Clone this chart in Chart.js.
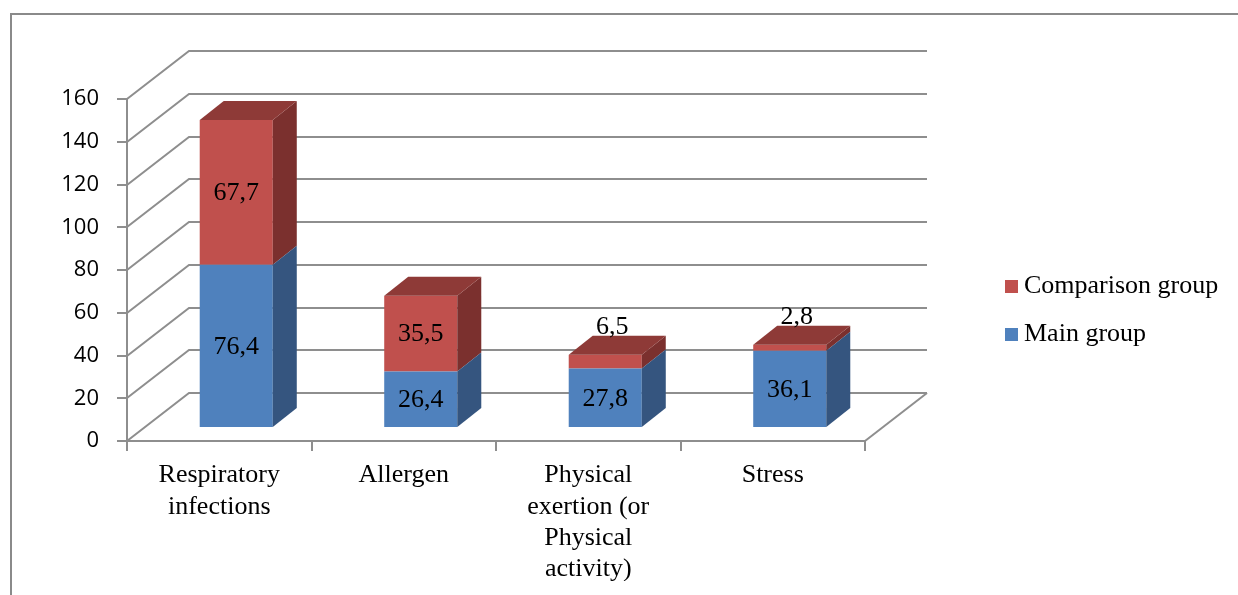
<!DOCTYPE html>
<html>
<head>
<meta charset="utf-8">
<script src="https://cdn.jsdelivr.net/npm/chart.js@4/dist/chart.umd.min.js"></script>
<style>
  html, body { margin: 0; padding: 0; background: #fff; }
  #wrap { width: 1238px; height: 595px; position: relative; }
</style>
</head>
<body>
<div id="wrap"><canvas id="c" width="1238" height="595"></canvas></div>
<script>
// ---- data ----
const categories = [
  ["Respiratory", "infections"],
  ["Allergen"],
  ["Physical", "exertion (or", "Physical", "activity)"],
  ["Stress"]
];
const mainGroup = [76.4, 26.4, 27.8, 36.1];
const comparisonGroup = [67.7, 35.5, 6.5, 2.8];
const seriesLabels = ["Main group", "Comparison group"];
const yMin = 0;
const yMax = 160;
const yStep = 20;

// ---- 3D look ----
const WALL = { dx: 62, dy: 48 };       // depth of side wall / floor
const BAR_SHIFT = { dx: 17, dy: 13 };  // where bar fronts sit inside the depth
const BAR_DEPTH = { dx: 24, dy: 19 };  // thickness of each box
const GRID = '#8e8e8e';
const SHADES = [
  { front: '#4f81bd', side: '#35557f', top: '#40679a' },
  { front: '#c0504d', side: '#7b302e', top: '#8e3a37' }
];
const SERIF = '"Liberation Serif", "Times New Roman", serif';

const fmt = v => v.toFixed(1).replace('.', ',');

const boxes3d = {
  id: 'boxes3d',
  beforeDraw(chart) {
    const { ctx, chartArea: a, scales: { y } } = chart;
    ctx.save();
    ctx.fillStyle = '#fff';
    ctx.fillRect(0, 0, chart.width, chart.height);
    // outer frame
    ctx.strokeStyle = '#8a8a8a';
    ctx.lineWidth = 2;
    ctx.strokeRect(11, 14, chart.width + 10, chart.height + 10);
    // side wall + back wall grid lines
    ctx.strokeStyle = GRID;
    ctx.lineWidth = 2;
    y.ticks.forEach(t => {
      const py = Math.round(y.getPixelForValue(t.value));
      ctx.beginPath();
      ctx.moveTo(a.left, py);
      ctx.lineTo(a.left + WALL.dx, py - WALL.dy);
      ctx.lineTo(a.right + WALL.dx, py - WALL.dy);
      ctx.stroke();
    });
    // right edge of the floor
    ctx.beginPath();
    ctx.moveTo(a.right, a.bottom);
    ctx.lineTo(a.right + WALL.dx, a.bottom - WALL.dy);
    ctx.stroke();
    ctx.restore();
  },
  beforeDatasetsDraw(chart) {
    chart.ctx.save();
    chart.ctx.translate(BAR_SHIFT.dx, -BAR_SHIFT.dy);
  },
  afterDatasetDraw(chart, args) {
    const { ctx } = chart;
    const i = args.index;
    const meta = chart.getDatasetMeta(i);
    const shade = SHADES[i];
    const isTop = i === chart.data.datasets.length - 1;
    meta.data.forEach(bar => {
      const { x, y, base, width } = bar.getProps(['x', 'y', 'base', 'width'], true);
      const x0 = x - width / 2, x1 = x + width / 2;
      // side face
      ctx.fillStyle = shade.side;
      ctx.beginPath();
      ctx.moveTo(x1, base);
      ctx.lineTo(x1, y);
      ctx.lineTo(x1 + BAR_DEPTH.dx, y - BAR_DEPTH.dy);
      ctx.lineTo(x1 + BAR_DEPTH.dx, base - BAR_DEPTH.dy);
      ctx.closePath();
      ctx.fill();
      if (isTop) {
        ctx.fillStyle = shade.top;
        ctx.beginPath();
        ctx.moveTo(x0, y);
        ctx.lineTo(x1, y);
        ctx.lineTo(x1 + BAR_DEPTH.dx, y - BAR_DEPTH.dy);
        ctx.lineTo(x0 + BAR_DEPTH.dx, y - BAR_DEPTH.dy);
        ctx.closePath();
        ctx.fill();
      }
    });
  },
  afterDatasetsDraw(chart) {
    const { ctx } = chart;
    // value labels
    ctx.fillStyle = '#000';
    ctx.font = '26px ' + SERIF;
    ctx.textAlign = 'center';
    chart.data.datasets.forEach((ds, i) => {
      const meta = chart.getDatasetMeta(i);
      meta.data.forEach((bar, j) => {
        const { x, y, base } = bar.getProps(['x', 'y', 'base'], true);
        const txt = fmt(ds.data[j]);
        if (base - y >= 30) {
          ctx.textBaseline = 'middle';
          ctx.fillText(txt, x, (y + base) / 2 + 1);
        } else {
          ctx.textBaseline = 'alphabetic';
          ctx.fillText(txt, x + 7, y - BAR_DEPTH.dy - 2);
        }
      });
    });
    ctx.restore();
  },
  afterDraw(chart) {
    const { ctx } = chart;
    // legend, last series first
    const items = chart.data.datasets.map(ds => ({ label: ds.label, color: ds.backgroundColor })).reverse();
    ctx.save();
    ctx.font = '26px ' + SERIF;
    ctx.textAlign = 'left';
    ctx.textBaseline = 'alphabetic';
    items.forEach((it, k) => {
      const baseY = 293 + k * 48;
      ctx.fillStyle = it.color;
      ctx.fillRect(1005, baseY - 13, 13, 13);
      ctx.fillStyle = '#000';
      ctx.fillText(it.label, 1024, baseY);
    });
    ctx.restore();
  }
};

new Chart(document.getElementById('c'), {
  type: 'bar',
  data: {
    labels: categories,
    datasets: [
      { label: seriesLabels[0], data: mainGroup, backgroundColor: SHADES[0].front, borderWidth: 0 },
      { label: seriesLabels[1], data: comparisonGroup, backgroundColor: SHADES[1].front, borderWidth: 0 }
    ]
  },
  options: {
    responsive: false,
    animation: false,
    devicePixelRatio: 1,
    layout: { padding: { left: 0, top: 99, right: 373, bottom: 14 } },
    datasets: { bar: { categoryPercentage: 1, barPercentage: 0.396, clip: false } },
    plugins: {
      legend: { display: false },
      tooltip: { enabled: false }
    },
    scales: {
      x: {
        stacked: true,
        afterFit(s) { s.height = 140; },
        grid: { drawOnChartArea: false, drawTicks: true, tickLength: 10, color: GRID, lineWidth: 2 },
        border: { display: true, color: GRID, width: 2 },
        ticks: { color: '#000', padding: 9, font: { family: SERIF, size: 26, lineHeight: 1.2 }, maxRotation: 0, autoSkip: false }
      },
      y: {
        stacked: true,
        min: yMin,
        max: yMax,
        afterFit(s) { s.width = 127; },
        grid: { drawOnChartArea: false, drawTicks: true, tickLength: 10, color: GRID, lineWidth: 2 },
        border: { display: true, color: GRID, width: 2 },
        ticks: { stepSize: yStep, color: '#000', padding: 18, font: { family: '"Open Sans", sans-serif', size: 22 } }
      }
    }
  },
  plugins: [boxes3d]
});
</script>
</body>
</html>
